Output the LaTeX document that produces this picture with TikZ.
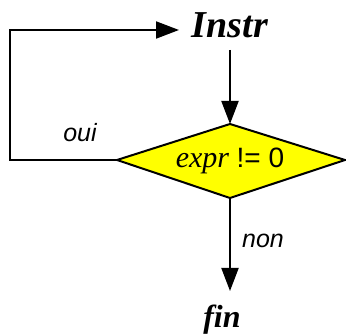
\documentclass[tikz,border=0pt]{standalone}
\usepackage{fontspec}
\setmainfont{Liberation Serif}
\setsansfont{Liberation Sans}
\usetikzlibrary{arrows.meta}
\definecolor{diamondyellow}{RGB}{255,255,0}
\begin{document}
\begin{tikzpicture}[x=1pt,y=-1pt,
  line/.style={line width=2pt},
  arr/.style={line width=2pt,-{Triangle[length=23pt 0,width=17pt 0]}},
  title/.style={font=\fontsize{38}{40}\selectfont\bfseries\itshape,inner sep=0pt},
  lbl/.style={font=\fontsize{25}{27}\selectfont\sffamily\itshape,inner sep=0pt}]
\useasboundingbox (0,0) rectangle (346,336);
% nodes
\node[title] (instr) at (230,25) {Instr};
\node[title,font=\fontsize{32}{34}\selectfont\bfseries\itshape] (fin) at (222,320) {fin};
\coordinate (dl) at (117,160);
\coordinate (dt) at (230,124);
\coordinate (dr) at (345,160);
\coordinate (db) at (230,198);
\filldraw[line,fill=diamondyellow,line join=miter] (dl) -- (dt) -- (dr) -- (db) -- cycle;
\node[inner sep=0pt] (expr) at (230,161) {\fontsize{30}{32}\selectfont\itshape expr \fontsize{28}{30}\selectfont\sffamily\upshape != 0};
\node[lbl] (oui) at (80,133) {oui};
\node[lbl] (non) at (263,241) {non};
% connectors
\coordinate (istart) at (230,50);
\coordinate (loopcorner) at (10,160);
\coordinate (looptop) at (10,30);
\coordinate (loopend) at (179,30);
\coordinate (nonend) at (230,291);
\draw[arr] (istart) -- (dt);
\draw[arr] (dl) -- (loopcorner) -- (looptop) -- (loopend);
\draw[arr] (db) -- (nonend);
\end{tikzpicture}
\end{document}
